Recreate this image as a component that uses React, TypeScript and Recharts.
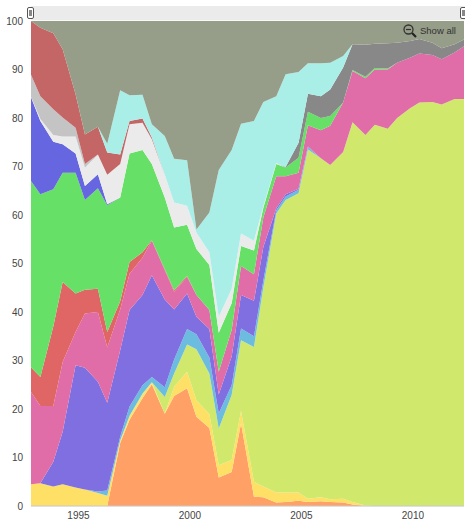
import React from 'react';
import { AreaChart, Area, XAxis, YAxis, CartesianGrid } from 'recharts';

// half-yearly lists, June and November
const periods = [
  1993.46, 1993.88, 1994.46, 1994.88, 1995.46, 1995.88, 1996.46, 1996.88, 1997.46, 1997.88,
  1998.46, 1998.88, 1999.46, 1999.88, 2000.46, 2000.88, 2001.46, 2001.88, 2002.46, 2002.88,
  2003.46, 2003.88, 2004.46, 2004.88, 2005.46, 2005.88, 2006.46, 2006.88, 2007.46, 2007.88,
  2008.46, 2008.88, 2009.46, 2009.88, 2010.46, 2010.88, 2011.46, 2011.88, 2012.46, 2012.88,
];

const yTicks = [0, 10, 20, 30, 40, 50, 60, 70, 80, 90, 100];
const xTicks = [1995, 2000, 2005, 2010];

// upper edge of each band, bottom band first
const orangeTop = [
  0, 0, 0, 0, 0, 0, 0, 0, 13, 17.8,
  22.2, 25.1, 19, 22.7, 24.3, 18.4, 16.1, 5.9, 7, 17,
  1.9, 1.8, 0.7, 0.8, 1.1, 0.8, 1, 0.8, 0.7, 0.3,
  0, 0, 0, 0, 0, 0, 0, 0, 0, 0,
];
const yellowTop = [
  4.5, 4.7, 4, 4.5, 3.8, 3.4, 2.7, 2.1, 13.4, 18.4,
  22.9, 25.5, 19, 24.6, 27.7, 21.8, 18.9, 8.4, 9.5, 19.6,
  5, 4, 2.8, 2.8, 2.8, 1.5, 1.8, 1.4, 1.5, 0.8,
  0.1, 0, 0, 0, 0, 0, 0, 0, 0, 0,
];
const limeTop = [
  4.5, 4.7, 4, 4.5, 3.8, 3.4, 2.7, 2.1, 13.5, 18.6,
  23.2, 25.5, 22.5, 27.3, 33.3, 32.3, 27.3, 16, 22.9, 34.2,
  32.8, 45, 60.3, 63.1, 64.5, 73.5, 71.7, 70.3, 73, 79.1,
  76.5, 78.6, 77.8, 80, 82, 83.2, 83.3, 82.8, 83.9, 83.9,
];
const skyTop = [
  4.5, 4.7, 4, 4.5, 3.8, 3.4, 3, 3.2, 14.3, 20.5,
  24.9, 26.6, 24.5, 30.2, 36.5, 35.4, 30.6, 19.1, 24.9, 36.6,
  35, 46.5, 61, 63.8, 65.2, 74, 71.7, 70.3, 73, 79.1,
  76.5, 78.6, 77.8, 80, 82, 83.2, 83.3, 82.8, 83.9, 83.9,
];
const violetTop = [
  4.5, 4.7, 9.1, 15.3, 29, 28.5, 25.6, 21.3, 32.1, 40.4,
  43.5, 47.6, 42.6, 40.5, 43.8, 39, 36.5, 23, 30.8, 43.5,
  42.3, 53.4, 61.4, 64.3, 65.4, 74.1, 71.7, 70.3, 73, 79.1,
  76.5, 78.6, 77.8, 80, 82, 83.2, 83.3, 82.8, 83.9, 83.9,
];
const pinkTop = [
  23.5, 20.6, 20.6, 29.7, 35.9, 39.7, 40, 32.7, 40.5, 47.9,
  51.2, 54.7, 48.6, 44.2, 47.2, 43.5, 40.4, 27.7, 36.3, 49.5,
  47.8, 59.5, 68, 68, 68.7, 78.5, 77.5, 78.4, 83.2, 89.7,
  88.2, 90, 90, 91.4, 92.4, 93.3, 93, 92.1, 93.5, 94.8,
];
const redTop = [
  28.6, 26.6, 37, 46.2, 43.8, 44.6, 44.8, 35.9, 42.2, 50.3,
  52.3, 54.8, 48.8, 44.5, 47.4, 43.5, 40.4, 27.7, 36.3, 49.5,
  47.8, 59.5, 68, 68, 68.7, 78.5, 77.5, 78.4, 83.2, 89.7,
  88.2, 90, 90, 91.4, 92.4, 93.3, 93, 92.1, 93.5, 94.8,
];
const greenTop = [
  67, 64.3, 65.3, 68.7, 68.7, 63.1, 65.5, 62, 63.6, 72.7,
  73.4, 70.5, 63.6, 57.4, 58, 53, 49.7, 35.7, 41.8, 53.6,
  52.7, 61.5, 70.5, 69.8, 71.8, 81.3, 80, 80.4, 83.2, 89.9,
  88.5, 90.3, 90.2, 91.4, 92.4, 93.3, 93, 92.1, 93.5, 94.8,
];
const blueTop = [
  84.3, 79.4, 75.1, 74.6, 72.7, 66, 68.4, 62.2, 63.6, 72.7,
  73.4, 70.5, 63.6, 57.4, 58, 53, 49.7, 35.7, 41.8, 53.6,
  52.7, 61.5, 70.5, 69.8, 71.8, 81.3, 80, 80.4, 83.2, 89.9,
  88.5, 90.3, 90.2, 91.4, 92.4, 93.3, 93, 92.1, 93.5, 94.8,
];
const whiteTop = [
  84.4, 79.8, 76.5, 76.2, 76.2, 69.8, 72.4, 68.3, 70.5, 78.7,
  79, 75.6, 68.3, 62.6, 61.9, 56.4, 52.3, 39, 44.8, 56.2,
  54.7, 61.8, 70.7, 69.8, 71.8, 81.3, 80, 80.4, 83.2, 89.9,
  88.5, 90.3, 90.2, 91.4, 92.4, 93.3, 93, 92.1, 93.5, 94.8,
];
const silverTop = [
  88.9, 84.5, 81.8, 80.1, 78, 70.5, 72.5, 68.3, 70.5, 78.7,
  79, 75.6, 68.3, 62.6, 61.9, 56.4, 52.3, 39, 44.8, 56.2,
  54.7, 61.8, 70.7, 69.8, 71.8, 81.3, 80, 80.4, 83.2, 89.9,
  88.5, 90.3, 90.2, 91.4, 92.4, 93.3, 93, 92.1, 93.5, 94.8,
];
const brownTop = [
  100, 98.6, 97.5, 94.2, 84.9, 76.6, 78.2, 72.9, 72.5, 79.4,
  79.9, 76, 68.3, 62.6, 61.9, 56.4, 52.3, 39, 44.8, 56.2,
  54.7, 61.8, 70.7, 69.8, 71.8, 81.3, 80, 80.4, 83.2, 89.9,
  88.5, 90.3, 90.2, 91.4, 92.4, 93.3, 93, 92.1, 93.5, 94.8,
];
const grayTop = [
  100, 98.6, 97.5, 94.2, 84.9, 76.6, 78.2, 72.9, 72.5, 79.4,
  79.9, 76, 68.3, 62.6, 61.9, 56.4, 52.3, 39, 44.8, 56.2,
  54.7, 61.8, 70.7, 69.9, 74.9, 85, 84.5, 85.9, 90.4, 95.2,
  95.1, 95.3, 95.4, 95.5, 95.9, 96.3, 95.5, 94.4, 95.2, 96.2,
];
const cyanTop = [
  100, 98.6, 97.5, 94.2, 84.9, 76.6, 78.2, 74.7, 85.7, 84.7,
  84.8, 78.7, 76.3, 71.6, 71.3, 57, 60.5, 69.3, 73.4, 78.8,
  79.4, 83.3, 84.5, 89, 89.5, 91.3, 91.3, 91.4, 92.8, 95.2,
  95.1, 95.3, 95.4, 95.5, 95.9, 96.3, 95.5, 94.4, 95.2, 96.2,
];
const oliveTop = periods.map(() => 100);

const bands = [
  { key: 'orange', top: orangeTop, color: '#ffa066' },
  { key: 'yellow', top: yellowTop, color: '#ffe066' },
  { key: 'lime', top: limeTop, color: '#d0e96c' },
  { key: 'sky', top: skyTop, color: '#6cbce0' },
  { key: 'violet', top: violetTop, color: '#7f6fe0' },
  { key: 'pink', top: pinkTop, color: '#e06ca8' },
  { key: 'red', top: redTop, color: '#e06666' },
  { key: 'green', top: greenTop, color: '#66e066' },
  { key: 'blue', top: blueTop, color: '#6666e0' },
  { key: 'white', top: whiteTop, color: '#ebebeb' },
  { key: 'silver', top: silverTop, color: '#c4c4c4' },
  { key: 'brown', top: brownTop, color: '#c46666' },
  { key: 'gray', top: grayTop, color: '#888888' },
  { key: 'cyan', top: cyanTop, color: '#aaeee8' },
  { key: 'olive', top: oliveTop, color: '#969d88' },
];

const chartData = periods.map((year, i) => {
  const row: Record<string, number> = { year };
  bands.forEach((band, b) => {
    const below = b === 0 ? 0 : bands[b - 1].top[i];
    row[band.key] = Math.max(0, band.top[i] - below);
  });
  return row;
});

const labelFont = '"Liberation Sans", sans-serif';

const YearTick = ({ x, y, payload }: any) => (
  <text x={x + 2} y={y + 5} textAnchor="start" fontSize={10} fontFamily={labelFont} fill="#444">
    {payload.value}
  </text>
);

const Handle = ({ left }: { left: number }) => (
  <div style={{ position: 'absolute', left, top: 7, width: 5, height: 10, border: '1px solid #555', borderRadius: 2, background: '#fff' }}>
    <div style={{ position: 'absolute', left: 1, top: 2, width: 3, height: 6, background: '#888' }} />
  </div>
);

export default function App() {
  return (
    <div style={{ position: 'absolute', left: 0, top: 0, width: 465, height: 521, background: '#fff', overflow: 'hidden' }}>
      <AreaChart width={465} height={521} data={chartData} margin={{ top: 21, right: 1, left: 0, bottom: 0 }}>
        <XAxis
          dataKey="year"
          type="number"
          domain={[1993.46, 2012.88]}
          ticks={xTicks}
          tick={<YearTick />}
          height={15}
          tickLine={false}
          axisLine={{ stroke: '#c8c8c8' }}
        />
        <YAxis
          type="number"
          domain={[0, 100]}
          ticks={yTicks}
          width={31}
          interval={0}
          tickSize={0}
          tickMargin={8}
          axisLine={false}
          tick={{ fontSize: 10, fontFamily: labelFont, fill: '#444' }}
        />
        {bands.map((band) => (
          <Area
            key={band.key}
            type="linear"
            dataKey={band.key}
            stackId="share"
            stroke="none"
            fill={band.color}
            fillOpacity={1}
            dot={false}
            activeDot={false}
            isAnimationActive={false}
          />
        ))}
        <CartesianGrid stroke="rgba(0,0,0,0.05)" horizontalValues={yTicks} verticalValues={xTicks} />
      </AreaChart>

      <div style={{ position: 'absolute', left: 31, top: 6, width: 434, height: 14, background: '#ebebeb' }} />
      <Handle left={27} />
      <Handle left={460} />

      <svg width={16} height={16} style={{ position: 'absolute', left: 402, top: 23 }}>
        <circle cx={6.5} cy={6.5} r={4.5} fill="none" stroke="#333" strokeWidth={1.3} />
        <line x1={4} y1={6.5} x2={9} y2={6.5} stroke="#333" strokeWidth={1.2} />
        <line x1={10} y1={10} x2={14} y2={14} stroke="#222" strokeWidth={2.2} />
      </svg>
      <div style={{ position: 'absolute', left: 420, top: 24, fontFamily: labelFont, fontSize: 9.5, lineHeight: '13px', color: '#333', whiteSpace: 'nowrap' }}>
        Show all
      </div>
    </div>
  );
}
